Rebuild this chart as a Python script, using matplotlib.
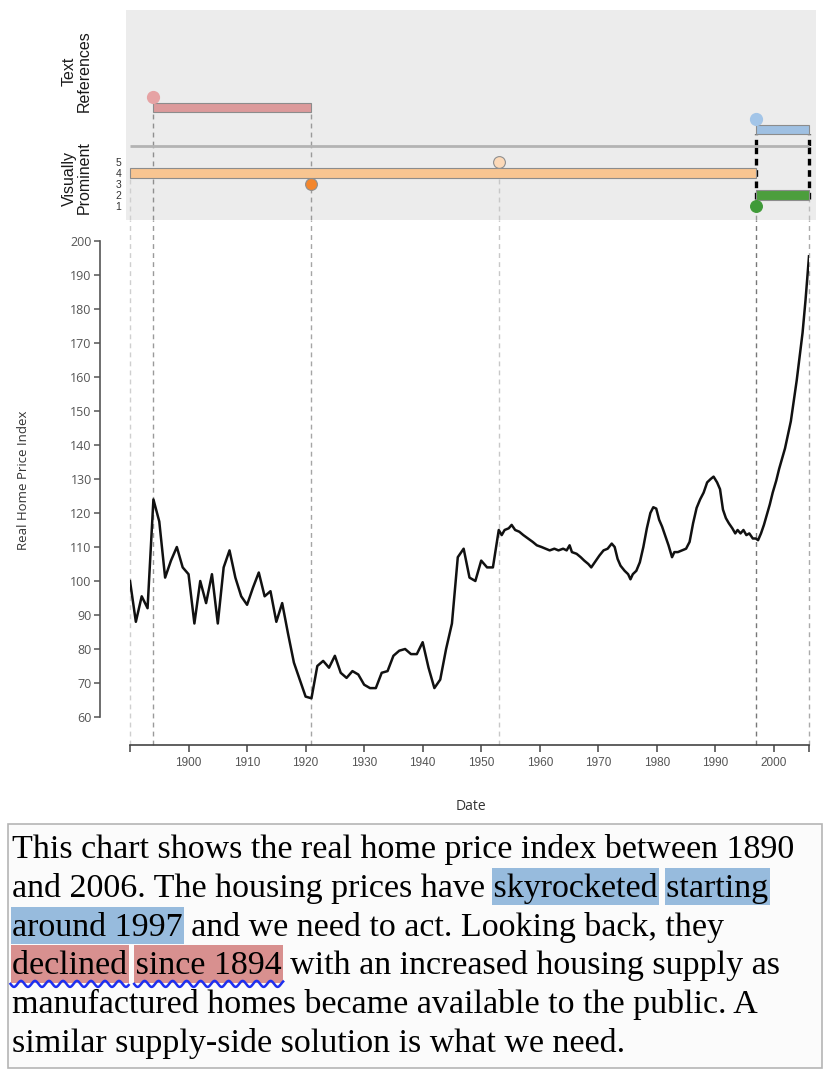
import matplotlib
matplotlib.use("Agg")
import matplotlib.pyplot as plt
import numpy as np
from matplotlib.patches import Rectangle

# ---- data ----
years = [
    1890, 1891, 1892, 1893, 1894, 1895, 1896, 1897, 1898, 1899,
    1900, 1901, 1902, 1903, 1904, 1905, 1906, 1907, 1908, 1909,
    1910, 1911, 1912, 1913, 1914, 1915, 1916, 1917, 1918, 1919,
    1920, 1921, 1922, 1923, 1924, 1925, 1926, 1927, 1928, 1929,
    1930, 1931, 1932, 1933, 1934, 1935, 1936, 1937, 1938, 1939,
    1940, 1941, 1942, 1943, 1944, 1945, 1946, 1947, 1948, 1949,
    1950, 1951, 1952, 1953,
    1953.5, 1954.0, 1954.7, 1955.2, 1955.8, 1956.5, 1957.2, 1958.0, 1958.8, 1959.5,
    1960.3, 1961.0, 1961.7, 1962.5, 1963.2, 1964.0, 1964.6, 1965.1, 1965.5, 1966.3,
    1967.0, 1967.6, 1968.3, 1968.8, 1969.4, 1970.2, 1970.9, 1971.6, 1972.3, 1972.8,
    1973.3, 1973.8, 1974.5, 1975.1, 1975.5, 1975.9, 1976.5, 1977.1, 1977.7, 1978.3,
    1978.9, 1979.4, 1979.9, 1980.4, 1980.9, 1981.5, 1982.0, 1982.6, 1983.0, 1983.6,
    1984.3, 1985.0, 1985.6, 1986.2, 1986.8, 1987.4, 1988.0, 1988.6, 1989.2, 1989.7,
    1990.3, 1990.8, 1991.3, 1991.8, 1992.3, 1992.9, 1993.4, 1993.8, 1994.3, 1994.8,
    1995.3, 1995.8, 1996.4, 1996.9, 1997.3, 1997.8, 1998.3, 1998.8, 1999.3, 1999.8,
    2000.4, 2000.9, 2001.4, 2001.9, 2002.4, 2002.9, 2003.4, 2003.9, 2004.4, 2004.9,
    2005.4, 2005.8, 2006.0,
]
index_values = [
    100, 88, 95.5, 92, 124, 117.5, 101, 106, 110, 104,
    102, 87.5, 100, 93.5, 102, 87.5, 104, 109, 101, 95.5,
    93, 98, 102.5, 95.5, 97, 88, 93.5, 84.5, 76, 71,
    66, 65.5, 75, 76.5, 74.5, 78, 73, 71.5, 73.5, 72.5,
    69.5, 68.5, 68.5, 73, 73.5, 78, 79.5, 80, 78.5, 78.5,
    82, 74.5, 68.5, 71, 80, 87.5, 107, 109.5, 101, 100,
    106, 104, 104, 115,
    113.5, 115, 115.5, 116.5, 115, 114.5, 113.5, 112.5, 111.5, 110.5,
    110, 109.5, 109, 109.5, 109, 109.5, 109, 110.5, 108.5, 108,
    107, 106, 105, 104, 105.5, 107.5, 109, 109.5, 111, 110,
    106.5, 104.5, 103, 102, 100.5, 102, 103, 105.5, 110, 115.5,
    120, 121.7, 121.3, 118, 116, 113, 110.5, 107, 108.5, 108.5,
    109, 109.5, 111.5, 117, 121.5, 124, 126, 129, 130, 130.7,
    129, 127, 121, 118.5, 117, 115.5, 114, 115, 114, 115,
    113.5, 114, 112.5, 112.5, 112, 114, 116.5, 119.5, 122.5, 126,
    129.5, 133, 136, 139, 143, 147, 153, 159, 166, 173,
    182.5, 191, 195.5,
]

# text reference marks (levels in the upper strip)
ref_bar_start = [1894, 1997]
ref_bar_end = [1921, 2006]
ref_bar_level = [3, 1]
ref_bar_color = ["#dc9a9b", "#9fc0e2"]
ref_dot_year = [1894, 1997]
ref_dot_level = [4, 2]
ref_dot_color = ["#e6a3a4", "#a3c5e8"]

# visually prominent marks
prom_bar_start = [1890, 1997]
prom_bar_end = [1997, 2006]
prom_bar_level = [4, 2]
prom_bar_color = ["#f8c591", "#4c9e3d"]
prom_dot_year = [1953, 1921, 1997]
prom_dot_level = [5, 3, 1]
prom_dot_color = ["#fcd9b8", "#f3862d", "#3f9a38"]
prom_levels = [1, 2, 3, 4, 5]

# guide lines
guide_years = [1890, 1894, 1921, 1953, 1997, 2006]
guide_colors = ["#cfcfcf", "#9a9a9a", "#a5a5a5", "#c8c8c8", "#777777", "#aaaaaa"]

yticks = list(range(60, 201, 10))
xticks = [1890] + list(range(1900, 2001, 10)) + [2006]
xticklabels = [""] + [str(y) for y in range(1900, 2001, 10)] + [""]

text_lines = [
    [("This chart shows the real home price index between 1890", None)],
    [("and 2006. The housing prices have ", None), ("skyrocketed", "blue"),
     (" ", None), ("starting", "blue")],
    [("around 1997", "blue"), (" and we need to act. Looking back, they", None)],
    [("declined", "red"), (" ", None), ("since 1894", "red"),
     (" with an increased housing supply as", None)],
    [("manufactured homes became available to the public. A", None)],
    [("similar supply-side solution is what we need.", None)],
]
hl_colors = {"blue": "#97bbdd", "red": "#d8908f"}

W, H = 830, 1075


def rect_px(x0, y0, x1, y1):
    return [x0 / W, 1 - y1 / H, (x1 - x0) / W, (y1 - y0) / H]


fig = plt.figure(figsize=(W / 100, H / 100), dpi=100)
fig.patch.set_facecolor("white")

px_per_year = (809 - 130) / 116
xl = (1890 - (130 - 125.5) / px_per_year, 2006 + (816 - 809) / px_per_year)

# ---- upper strip: text references / visually prominent ----
ax_ref = fig.add_axes(rect_px(125.5, 10, 816, 146))
ax_prom = fig.add_axes(rect_px(125.5, 146, 816, 220))
for a in (ax_ref, ax_prom):
    a.set_facecolor("#ececec")
    a.set_xlim(*xl)
    for s in a.spines.values():
        s.set_visible(False)
    a.set_xticks([])
ax_ref.set_ylim(-0.5, 1 + 119.5 / 11)
ax_ref.set_yticks([])
ax_prom.set_ylim(1 - 14 / 11, 1 + 60 / 11)
ax_prom.set_yticks(prom_levels)
ax_prom.set_yticklabels([str(v) for v in prom_levels], fontsize=7.5,
                        family="Liberation Sans", color="#333333")
ax_prom.tick_params(axis="y", length=0, pad=3)

dash = (0, (3.5, 3))
bdash = (0, (2, 1.4))
ax_ref.vlines([1894, 1921], -0.5, 2.55, colors=["#8f8f8f", "#9a9a9a"], lw=1, linestyles=[dash], zorder=1)
ax_ref.vlines([1997, 2006], -0.5, 0.55, colors="black", lw=2.4, linestyles=[bdash], zorder=1)
ax_prom.vlines([1894, 1921], -0.3, 6.5, colors=["#8f8f8f", "#9a9a9a"], lw=1, linestyles=[dash], zorder=1)
ax_prom.vlines([1997, 2006], 1.6, 6.5, colors="black", lw=2.4, linestyles=[bdash], zorder=1)
ax_prom.vlines([1890], -0.3, 3.55, colors="#cfcfcf", lw=1, linestyles=[dash], zorder=1)
ax_prom.vlines([1953], -0.3, 5, colors="#c8c8c8", lw=1, linestyles=[dash], zorder=1)
ax_prom.vlines([1997], -0.3, 1, colors="#999999", lw=1, linestyles=[dash], zorder=1)
ax_prom.vlines([2006], -0.3, 1.55, colors="#bbbbbb", lw=1, linestyles=[dash], zorder=1)
ax_prom.hlines(1 + 60 / 11, 1890, 2006, color="#b3b3b3", lw=2, clip_on=False, zorder=2)

for s, e, lv, c in zip(ref_bar_start, ref_bar_end, ref_bar_level, ref_bar_color):
    ax_ref.barh(lv, e - s, left=s, height=0.85, color=c, edgecolor="#8c8c8c", lw=0.8, zorder=3)
for yr, lv, c in zip(ref_dot_year, ref_dot_level, ref_dot_color):
    ax_ref.plot(yr, lv, "o", ms=8.5, color=c, mec=c, zorder=4)
for s, e, lv, c in zip(prom_bar_start, prom_bar_end, prom_bar_level, prom_bar_color):
    ax_prom.barh(lv, e - s, left=s, height=0.85, color=c, edgecolor="#8c8c8c", lw=0.8, zorder=3)
for yr, lv, c in zip(prom_dot_year, prom_dot_level, prom_dot_color):
    ax_prom.plot(yr, lv, "o", ms=8.5, color=c, mec="#8f8f8f" if lv != 1 else c, mew=0.8, zorder=4)

fig.text(77 / W, 1 - 71 / H, "Text\nReferences", rotation=90, ha="center", va="center",
         fontsize=11.5, family="Liberation Sans", color="#1a1a1a", linespacing=1.0)
fig.text(77 / W, 1 - 178 / H, "Visually\nProminent", rotation=90, ha="center", va="center",
         fontsize=11.5, family="Liberation Sans", color="#1a1a1a", linespacing=1.0)

# ---- main line chart ----
ax = fig.add_axes(rect_px(130, 241, 809, 717))
ax.set_xlim(1890, 2006)
ax.set_ylim(60, 200)
ax.patch.set_alpha(0)
low = 60 - 28 / 3.4
high = 200 + 21 / 3.4
ax.vlines(guide_years, low, high, colors=guide_colors, lw=1, linestyles=[dash], clip_on=False, zorder=1)
ax.plot(years, index_values, color="#111111", lw=1.8, zorder=3)

for side in ("top", "right"):
    ax.spines[side].set_visible(False)
ax.spines["left"].set_position(("outward", 30 * 72 / 100))
ax.spines["bottom"].set_position(("outward", 28 * 72 / 100))
ax.spines["left"].set_bounds(60, 200)
ax.spines["bottom"].set_bounds(1890, 2006)
ax.spines["left"].set_color("#555555")
ax.spines["bottom"].set_color("#444444")
ax.spines["left"].set_linewidth(1.2)
ax.spines["bottom"].set_linewidth(1.2)
ax.set_yticks(yticks)
ax.set_yticklabels([str(v) for v in yticks], fontsize=9, family="Open Sans", color="#555555")
ax.set_xticks(xticks)
ax.set_xticklabels(xticklabels, fontsize=8.5, family=["Liberation Sans Narrow", "Liberation Sans"],
                   color="#555555")
ax.tick_params(axis="y", length=4, width=1.1, color="#555555", pad=2)
ax.tick_params(axis="x", length=5, width=1.1, color="#444444", pad=4)
ax.set_ylabel("Real Home Price Index", fontsize=9.5, family="Open Sans", color="#333333", labelpad=0)
ax.yaxis.set_label_coords((30 - 130) / (809 - 130), (717 - 480) / 476)
ax.set_xlabel("Date", fontsize=10, family="Open Sans", color="#333333")
ax.xaxis.set_label_coords((471 - 130) / (809 - 130), -(799 - 717) / 476)

# ---- annotated caption ----
fig.patches.append(Rectangle((7.5 / W, 1 - 1068 / H), 814.5 / W, 244 / H, transform=fig.transFigure,
                             facecolor="#fbfbfb", edgecolor="#b5b5b5", lw=1.2, zorder=0))

renderer = fig.canvas.get_renderer()
txt_kw = dict(fontsize=24.5, family="Liberation Serif", color="black")


def width_px(s):
    t1 = fig.text(0, 0, s + "|", **txt_kw)
    t2 = fig.text(0, 0, "|", **txt_kw)
    w = t1.get_window_extent(renderer).width - t2.get_window_extent(renderer).width
    t1.remove()
    t2.remove()
    return w


x_start = 12
for i, line in enumerate(text_lines):
    base = 858 + i * 38.8
    full = "".join(s for s, _ in line)
    prefix = ""
    for s, hl in line:
        if hl is not None:
            x0 = x_start + width_px(prefix) - 1.5
            w = width_px(s) + 3
            fig.patches.append(Rectangle((x0 / W, 1 - (base + 8.5) / H), w / W, 37.5 / H,
                                         transform=fig.transFigure, facecolor=hl_colors[hl],
                                         edgecolor="none", zorder=1))
            if hl == "red":
                xs = np.linspace(x0, x0 + w, 240)
                ys = base + 9.5 + 3.0 * np.sin((xs - x0) / 14 * 2 * np.pi)
                fig.lines.append(plt.Line2D(xs / W, 1 - ys / H, transform=fig.transFigure,
                                            color="#1d2ff0", lw=1.8, zorder=2))
        prefix += s
    fig.text(x_start / W, 1 - base / H, full, va="baseline", ha="left", zorder=3, **txt_kw)

fig.savefig("out.png", dpi=100)
